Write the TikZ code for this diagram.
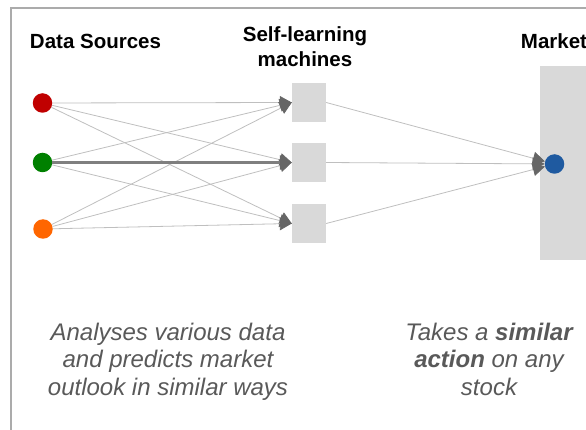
\documentclass[tikz,border=0pt]{standalone}
\usepackage{fontspec}
\setmainfont{Liberation Sans}
\usetikzlibrary{arrows.meta}
\definecolor{framegray}{HTML}{ABABAB}
\definecolor{boxgray}{HTML}{D9D9D9}
\definecolor{linegray}{HTML}{BFBFBF}
\definecolor{tipgray}{HTML}{666666}
\definecolor{thickgray}{HTML}{7F7F7F}
\definecolor{txtgray}{HTML}{595959}
\definecolor{srcred}{HTML}{C00000}
\definecolor{srcgreen}{HTML}{008000}
\definecolor{srcorange}{HTML}{FF6600}
\definecolor{mktblue}{HTML}{1F5AA0}
\begin{document}
\begin{tikzpicture}[x=1pt,y=-1pt,
  dot/.style={circle,inner sep=0pt,minimum size=19.5pt},
  machine/.style={fill=boxgray,minimum width=34pt,minimum height=39pt,inner sep=0pt},
  link/.style={draw=linegray,line width=0.8pt,-{Triangle[length=12pt,width=13pt,color=tipgray]}},
  strong/.style={draw=thickgray,line width=3pt,-{Triangle[length=12pt,width=14pt,color=tipgray]}},
  title/.style={font=\bfseries\fontsize{20.5}{25}\selectfont,align=center,anchor=base,inner sep=0pt},
  note/.style={font=\itshape\fontsize{24}{27.5}\selectfont,text=txtgray,align=center,anchor=base,inner sep=0pt}]
\useasboundingbox (0,0) rectangle (586,430);
\clip (0,0) rectangle (586,430);
\draw[framegray,line width=2pt] (11,450) -- (11,8) -- (600,8);
% market panel
\node[fill=boxgray,anchor=north west,minimum width=60pt,minimum height=194pt,inner sep=0pt] (panel) at (540,66) {};
% nodes
\node[machine] (m1) at (309,102.5) {};
\node[machine] (m2) at (309,162.5) {};
\node[machine] (m3) at (309,223.5) {};
\node[dot,fill=srcred] (r) at (42.5,103) {};
\node[dot,fill=srcgreen] (g) at (42.5,162.5) {};
\node[dot,fill=srcorange] (o) at (43,229) {};
\node[dot,fill=mktblue] (mk) at (554.5,164) {};
% connectors
\draw[link] (r) -- (m1.west);
\draw[link] (r) -- (m2.west);
\draw[link] (r) -- (m3.west);
\draw[link] (g) -- (m1.west);
\draw[link] (g) -- (m3.west);
\draw[link] (o) -- (m1.west);
\draw[link] (o) -- (m2.west);
\draw[link] (o) -- (m3.west);
\draw[strong] (g) -- (m2.west);
\draw[link] (m1.east) -- (mk);
\draw[link] (m2.east) -- (mk);
\draw[link] (m3.east) -- (mk);
% titles
\node[title] (t1) at (95.5,48.5) {Data Sources};
\node[title] (t2) at (305,67) {Self-learning\\machines};
\node[title] (t3) at (554,48.5) {Market};
% notes
\node[note] (n1) at (168,395) {Analyses various data\\and predicts market\\outlook in similar ways};
\node[note] (n2) at (489,395) {Takes a \textbf{similar}\\\textbf{action} on any\\stock};
\end{tikzpicture}
\end{document}
